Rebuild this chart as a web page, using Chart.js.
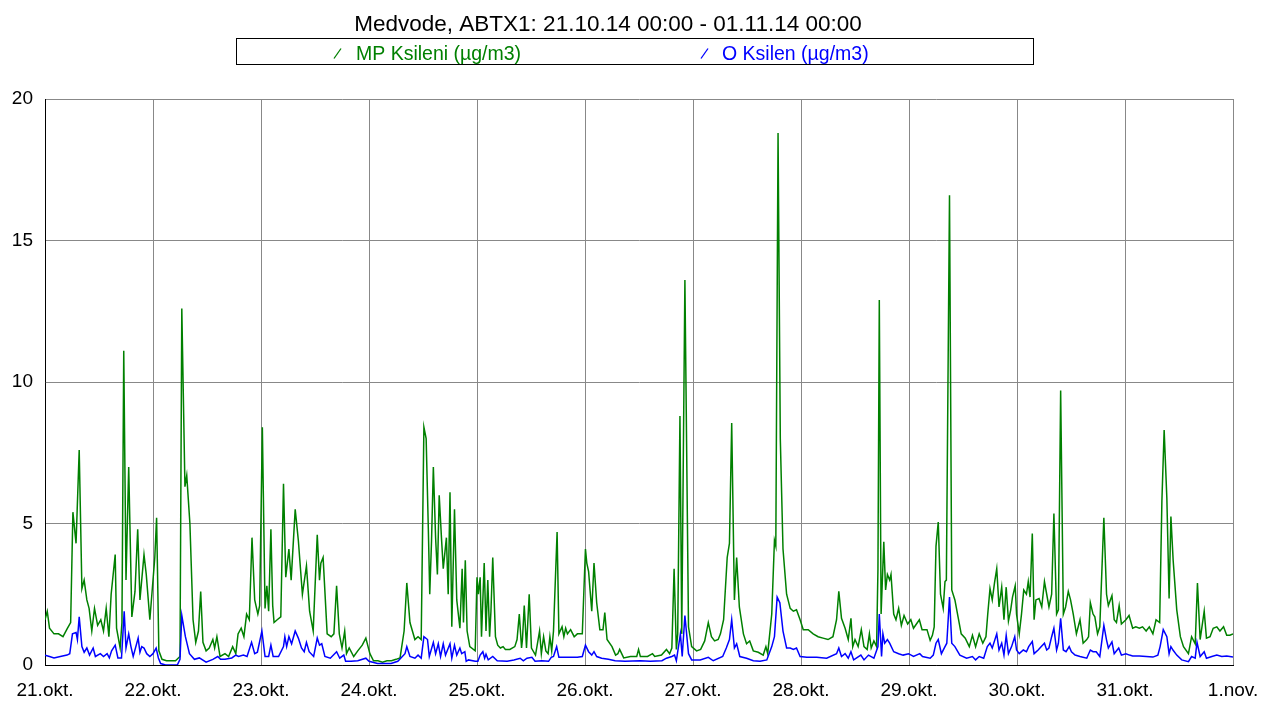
<!DOCTYPE html>
<html>
<head>
<meta charset="utf-8">
<script src="https://cdn.jsdelivr.net/npm/chart.js@4/dist/chart.umd.min.js"></script>
<style>
  html, body { margin: 0; padding: 0; background: #fff; }
  #wrap { width: 1262px; height: 702px; }
</style>
</head>
<body>
<div id="wrap"><canvas id="c" width="1262" height="702"></canvas></div>
<script>
const chartTitle = "Medvode, ABTX1: 21.10.14 00:00 - 01.11.14 00:00";
const seriesLabels = ["MP Ksileni (µg/m3)", "O Ksilen (µg/m3)"];
const dayLabels = ["21.okt.", "22.okt.", "23.okt.", "24.okt.", "25.okt.", "26.okt.", "27.okt.", "28.okt.", "29.okt.", "30.okt.", "31.okt.", "1.nov."];
const yTicks = [0, 5, 10, 15, 20];

// hours since 21.10.14 00:00
const mpHours = [0,0.5,1,2,3,4,5,5.7,6.2,6.9,7.6,8.2,8.7,9.3,9.8,10.4,11,11.7,12.4,13,13.6,14.2,14.7,15.6,15.9,16.7,17.1,17.5,18,18.6,19.3,20,20.6,21.1,22,22.5,23.3,24.4,24.8,25.3,26,27,28,29,30,30.4,31.1,31.5,32.2,32.9,33.5,34.1,34.6,35.1,35.8,36.5,37.3,37.7,38.2,38.9,40,40.8,41.7,42.4,42.9,43.6,44.2,44.8,45.4,46,46.6,47.3,47.7,48.3,48.9,49.3,49.7,50.2,50.6,50.9,51.6,52.4,53,53.5,54.2,54.7,55.6,56.3,57.2,58.1,58.8,59.6,60.5,61,61.3,61.8,62.7,63.6,64.2,64.8,65.4,66,66.6,67,67.6,68.6,69.5,70.5,71.3,72.2,73,74,75,76,77,78,78.9,79.8,80.4,81.1,82.2,82.9,83.6,84.2,84.7,85.2,85.5,85.9,86.3,86.8,87.2,87.6,88.1,88.5,89.2,89.6,90,90.4,91,91.5,92.2,92.7,93,93.4,93.8,94.4,95.6,96,96.3,96.7,97,97.6,98,98.4,98.8,99.1,99.5,100.1,100.6,101.2,101.8,102.3,103.3,104.4,104.9,105.4,105.9,106.1,106.5,107,107.6,108.1,109,109.9,110.3,110.8,111.3,111.8,112.2,112.6,113,113.8,114.2,114.9,115.3,115.7,116.1,116.8,117.6,118.3,119.4,120.1,120.4,120.8,121.5,122,122.6,123.3,124,124.4,124.9,126,126.8,127.3,127.7,128.6,130.1,131.5,131.9,132.3,133.9,135,135.5,137,138.1,138.8,139.3,139.8,140.3,140.6,141.1,141.5,142.2,143,143.7,144.8,145.7,146.6,147.4,148.1,148.8,149.6,150.1,150.8,151.6,152.1,152.6,153.2,153.7,154.3,155.2,155.9,156.6,157.4,158.5,159.6,160.2,160.6,161.5,162.1,162.4,162.9,163.4,164,164.8,165.6,166.3,167,167.8,168.5,169.6,170.7,171.8,172.9,174,175.1,175.9,176.4,177,177.8,178.5,179.1,179.5,180,180.7,181.4,182,182.7,183.2,183.6,184.2,184.8,185.1,185.4,185.8,186.4,186.8,187.2,187.7,188,188.6,189.1,189.7,190.3,190.9,191.7,192.4,193,194.3,194.9,196,196.7,197.2,197.6,198,198.5,199,199.6,200,200.3,201,201.5,202.2,202.9,203.6,204.5,205.4,206.1,206.8,207.6,208.4,209.1,209.5,210,210.5,211,211.5,212,212.6,213.1,213.6,214.1,214.6,215,215.6,215.9,216.5,217,217.5,218.1,218.5,218.9,219.4,219.8,220.2,220.9,221.5,222.1,222.6,223.1,223.7,224.2,224.8,225.2,225.7,226.3,226.8,227.4,227.9,228.5,229.2,230,230.7,231.5,231.9,232.3,232.9,233.3,233.9,234.4,235.3,235.9,236.3,237.1,237.6,238.1,238.7,239.2,240.2,240.9,241.7,242.4,243.2,243.9,244.7,245.4,246.2,246.9,247.7,248.2,248.7,249.3,249.8,250.2,250.7,251.5,252.3,253,254.1,254.8,255.6,256.1,256.7,257.6,258.1,258.9,259.6,260.4,261.1,261.9,262.6,263.3,264];
const mpValues = [1.6,1.9,1.3,1.1,1.1,1.0,1.3,1.5,5.4,4.3,7.6,2.7,3.0,2.3,2.0,1.2,2.0,1.4,1.6,1.2,2.0,1.0,2.5,3.9,1.3,0.6,1.5,11.1,3.0,7.0,1.7,2.6,4.8,2.3,3.9,3.2,1.6,3.8,5.2,0.5,0.2,0.15,0.15,0.15,0.3,12.6,6.3,6.7,5.0,1.6,0.8,1.2,2.6,0.8,0.5,0.6,0.9,0.6,1.0,0.3,0.4,0.3,0.65,0.4,1.1,1.3,1.0,1.8,1.6,4.5,2.3,1.8,2.1,8.4,2.0,2.8,1.9,4.8,2.1,1.5,1.6,1.7,6.4,3.1,4.1,3.0,5.5,4.4,2.5,3.5,1.9,1.2,4.6,3.0,3.6,3.8,1.1,1.0,1.1,2.8,1.1,0.6,1.2,0.4,0.6,0.3,0.5,0.7,0.95,0.4,0.15,0.15,0.1,0.15,0.15,0.2,0.25,1.2,2.9,1.5,0.9,1.0,0.9,8.4,8.0,4.7,2.5,4.4,7.0,4.5,3.2,6.0,4.5,3.4,4.5,2.5,6.1,1.35,5.5,2.3,1.3,3.4,1.5,3.7,1.2,0.65,0.5,3.1,2.5,3.1,1.0,3.6,1.2,3.0,1.0,1.9,3.8,1.0,0.7,0.6,0.65,0.55,0.55,0.65,0.9,1.8,0.6,0.9,2.1,0.6,2.5,0.6,0.35,1.2,0.4,1.0,0.5,0.4,1.0,0.5,1.2,4.7,1.1,1.35,1.0,1.3,1.1,1.25,1.0,1.1,1.1,4.1,3.6,3.3,1.9,3.6,2.2,1.25,1.25,1.85,0.9,0.65,0.35,0.4,0.55,0.25,0.3,0.3,0.55,0.3,0.3,0.4,0.3,0.35,0.55,0.4,0.6,3.4,0.55,1.1,8.8,1.1,13.6,1.35,0.65,0.5,0.55,0.85,1.5,1.0,0.85,0.9,1.1,1.6,3.8,4.3,8.55,2.3,3.8,2.05,1.1,0.75,0.85,0.5,0.45,0.35,0.65,0.4,1.8,4.4,4.2,18.8,8.0,4.1,2.5,2.0,1.9,1.95,1.6,1.25,1.25,1.1,1.0,0.95,0.9,1.0,1.6,2.6,1.65,1.3,0.9,1.65,0.65,0.9,0.65,1.25,0.65,0.55,1.1,0.6,0.85,0.65,3.4,12.9,1.8,4.35,2.65,3.2,3.0,3.2,1.8,1.6,2.0,1.4,1.75,1.45,1.6,1.3,1.6,1.25,1.25,0.87,1.05,1.35,4.2,5.05,2.5,2.0,2.95,3.0,16.6,2.65,2.3,1.7,1.1,0.95,0.65,1.05,0.65,1.1,0.77,1.0,1.8,2.7,2.3,2.9,3.4,2.05,2.75,1.6,2.75,1.55,1.95,2.4,2.8,1.8,1.1,1.8,2.65,2.5,2.95,2.4,4.65,1.6,2.3,2.35,2.05,2.95,2.5,2.05,2.5,5.35,1.8,1.95,9.7,1.8,2.05,2.6,2.3,1.8,1.1,1.6,0.77,0.9,1.0,2.2,1.8,1.7,1.1,1.35,5.2,2.5,2.1,2.45,1.6,1.5,2.1,1.45,1.6,1.75,1.3,1.35,1.3,1.35,1.2,1.35,1.1,1.6,1.5,5.8,8.3,5.9,2.35,5.25,3.7,1.95,1.0,0.65,0.4,1.0,0.75,2.9,0.9,1.9,0.95,1.0,1.3,1.35,1.2,1.35,1.05,1.05,1.1];

const oHours = [0,1,2,3.4,4.9,5.5,6.1,6.9,7.2,7.6,8.2,8.7,9.3,9.9,10.7,11.2,12.3,13,13.8,14.3,14.8,15.6,16.2,17,17.6,18,18.6,19.1,19.6,20.7,21.1,21.5,22,22.6,23.3,24,24.7,25.2,25.7,26.8,28,29.4,30,30.4,31.2,32.1,33.2,34.3,35.8,37.3,38.4,39,40,41.5,42.4,43,44.1,44.9,45.9,46.6,47.2,48.2,48.9,49.7,50.2,50.7,51.9,53,53.3,53.7,54.2,54.8,55.6,56.3,57,57.6,58.1,58.7,59.7,60.5,61,61.5,62.2,63.4,64.8,65.5,66.4,66.8,68,69.5,71.3,72,73.9,76.9,78.4,80,80.4,81.1,82.2,82.9,83.6,84.2,85,85.4,86.3,86.8,87.4,87.9,88.5,89,90,90.4,91,91.5,92.2,92.6,93.3,93.6,94.1,95.6,96.2,96.7,97.3,97.7,98,98.5,99.5,100.5,102.7,104.2,105.6,106.3,107.1,108.2,108.9,110.4,111.9,112.5,113,113.7,114.2,116.1,118.3,119.4,120.1,120.8,121.5,122,122.6,123.7,125.2,126.7,128.9,132.3,134.5,137.1,138.1,139.3,139.9,140.3,141.2,141.6,142.2,143,143.7,145.6,147.4,148.5,150.6,151.4,152.1,152.6,153.2,153.7,154.4,155.9,157.4,158.9,160.4,161.5,162.1,162.7,163.3,164,164.8,165.6,166.3,167,167.8,169.3,171.5,173.7,175.9,176.4,177,177.8,178.5,179.1,179.7,181.3,182,183,184.2,185.1,185.4,185.9,186.2,186.6,187.2,187.7,188.6,189.7,190.7,191.9,193,194.4,195,196.7,197.4,198,198.5,199.2,200,200.4,201,201.5,202.2,203.3,204.8,206.1,206.8,207.6,208.6,209.4,210,210.5,211.5,212,212.6,213.1,213.6,214.1,214.8,215.5,215.9,216.5,217.4,218.1,218.6,219.4,219.8,220.7,221.4,222.1,222.6,223.1,223.7,224.2,224.8,225.2,225.7,226.3,226.9,227.6,228.1,228.9,230,231.5,232.3,232.9,233.6,234.4,235.3,235.9,236.3,237.1,237.6,238.6,239.2,240.2,241,241.7,243.2,244.7,246.2,247.3,247.8,248.5,249.3,249.8,250.2,250.7,251.5,252.6,254.1,254.8,255.6,256,256.7,257.6,258.1,259.3,260.4,261.5,262.6,264];
const oValues = [0.35,0.3,0.25,0.3,0.35,0.4,1.1,1.15,0.9,1.7,0.65,0.45,0.6,0.35,0.6,0.3,0.4,0.3,0.4,0.25,0.5,0.7,0.25,0.25,1.9,0.6,1.1,0.65,0.3,0.95,0.45,0.65,0.6,0.4,0.3,0.4,0.6,0.25,0.05,0.0,0.0,0.0,0.2,1.75,1.0,0.4,0.2,0.25,0.1,0.2,0.3,0.2,0.2,0.25,0.35,0.3,0.35,0.3,0.8,0.4,0.45,1.2,0.3,0.3,0.7,0.3,0.3,0.65,1.0,0.65,1.0,0.75,1.2,0.95,0.6,0.47,0.8,0.47,0.3,0.95,0.7,0.75,0.3,0.24,0.47,0.24,0.35,0.13,0.13,0.15,0.24,0.13,0.05,0.05,0.13,0.4,0.65,0.3,0.24,0.35,0.24,1.0,0.9,0.3,0.8,0.4,0.75,0.3,0.75,0.35,0.75,0.24,0.7,0.35,0.6,0.4,0.47,0.13,0.18,0.13,0.13,0.35,0.47,0.24,0.38,0.18,0.3,0.15,0.13,0.18,0.24,0.15,0.24,0.27,0.13,0.15,0.13,0.27,0.3,0.65,0.27,0.27,0.27,0.3,0.7,0.47,0.35,0.47,0.3,0.24,0.2,0.15,0.13,0.15,0.13,0.15,0.24,0.3,0.35,0.15,1.1,0.3,1.75,0.4,0.18,0.18,0.27,0.15,0.3,0.6,0.9,1.6,0.6,0.75,0.3,0.24,0.15,0.13,0.18,0.65,1.0,2.4,2.2,1.2,0.6,0.6,0.55,0.6,0.3,0.27,0.27,0.24,0.4,0.6,0.3,0.4,0.24,0.47,0.18,0.35,0.18,0.35,0.24,0.65,1.8,0.3,1.1,0.77,0.9,0.77,0.47,0.4,0.35,0.4,0.3,0.4,0.3,0.24,0.35,0.77,0.9,0.4,0.65,0.77,2.4,0.77,0.65,0.35,0.24,0.3,0.18,0.3,0.24,0.65,0.77,0.6,1.1,0.53,0.77,0.35,1.05,0.4,0.65,1.0,0.53,0.4,0.53,0.47,0.65,0.83,0.4,0.53,0.65,0.77,0.53,0.6,1.0,1.3,0.53,0.77,1.65,0.53,0.47,0.65,0.47,0.35,0.3,0.24,0.53,0.47,0.47,0.3,1.4,0.88,0.6,0.82,0.4,0.6,0.35,0.4,0.35,0.32,0.32,0.3,0.28,0.35,0.65,1.25,1.0,0.4,0.65,0.52,0.35,0.18,0.12,0.3,0.24,0.8,0.3,0.47,0.24,0.3,0.35,0.3,0.32,0.28];

const mpColor = "#008000";
const oColor = "#0000ff";
const FONT = "'Liberation Sans', Arial, Helvetica, sans-serif";

const toPoints = (xs, ys) => xs.map((h, i) => ({ x: h, y: ys[i] }));

const headerPlugin = {
  id: "header",
  afterDraw(chart) {
    const ctx = chart.ctx;
    ctx.save();
    ctx.fillStyle = "#000";
    ctx.font = "22.5px " + FONT;
    ctx.textAlign = "center";
    ctx.textBaseline = "alphabetic";
    ctx.fillText(chartTitle, 608, 31);
    ctx.strokeStyle = "#000";
    ctx.lineWidth = 1;
    ctx.strokeRect(236.5, 38.5, 797, 26);
    const items = [
      { mx: 334, tx: 356 },
      { mx: 701, tx: 722 }
    ];
    ctx.font = "19.5px " + FONT;
    ctx.textAlign = "left";
    chart.data.datasets.forEach((ds, i) => {
      const it = items[i];
      ctx.strokeStyle = ds.borderColor;
      ctx.lineWidth = 1.3;
      ctx.beginPath();
      ctx.moveTo(it.mx, 58.5);
      ctx.lineTo(it.mx + 7, 48.5);
      ctx.stroke();
      ctx.fillStyle = ds.borderColor;
      ctx.fillText(ds.label, it.tx, 60);
    });
    ctx.restore();
  }
};

new Chart(document.getElementById("c"), {
  type: "line",
  data: {
    datasets: [
      { label: seriesLabels[0], data: toPoints(mpHours, mpValues), borderColor: mpColor, backgroundColor: mpColor, borderWidth: 1.5, pointRadius: 0, tension: 0, order: 1 },
      { label: seriesLabels[1], data: toPoints(oHours, oValues), borderColor: oColor, backgroundColor: oColor, borderWidth: 1.5, pointRadius: 0, tension: 0, order: 0 }
    ]
  },
  options: {
    responsive: false,
    animation: false,
    devicePixelRatio: 1,
    layout: { padding: { top: 99, right: 29, left: 0, bottom: 0 } },
    plugins: { legend: { display: false }, title: { display: false }, tooltip: { enabled: false } },
    scales: {
      x: {
        type: "linear",
        min: 0,
        max: (dayLabels.length - 1) * 24,
        afterBuildTicks: (axis) => { axis.ticks = dayLabels.map((_, i) => ({ value: i * 24 })); },
        afterFit: (axis) => { axis.height = 37; axis.paddingLeft = 0; axis.paddingRight = 0; },
        ticks: {
          autoSkip: false, maxRotation: 0, padding: 14, color: "#000",
          font: { family: FONT, size: 19 },
          callback: (v) => dayLabels[Math.round(v / 24)]
        },
        grid: { color: "#888", lineWidth: 1, drawTicks: false },
        border: { color: "#000", width: 1 }
      },
      y: {
        min: 0,
        max: 20,
        afterBuildTicks: (axis) => { axis.ticks = yTicks.map(v => ({ value: v })); },
        afterFit: (axis) => { axis.width = 45; axis.paddingTop = 0; axis.paddingBottom = 0; },
        ticks: { padding: 12, color: "#000", font: { family: FONT, size: 19 } },
        grid: { color: "#888", lineWidth: 1, drawTicks: false },
        border: { color: "#000", width: 1 }
      }
    }
  },
  plugins: [headerPlugin]
});
</script>
</body>
</html>
